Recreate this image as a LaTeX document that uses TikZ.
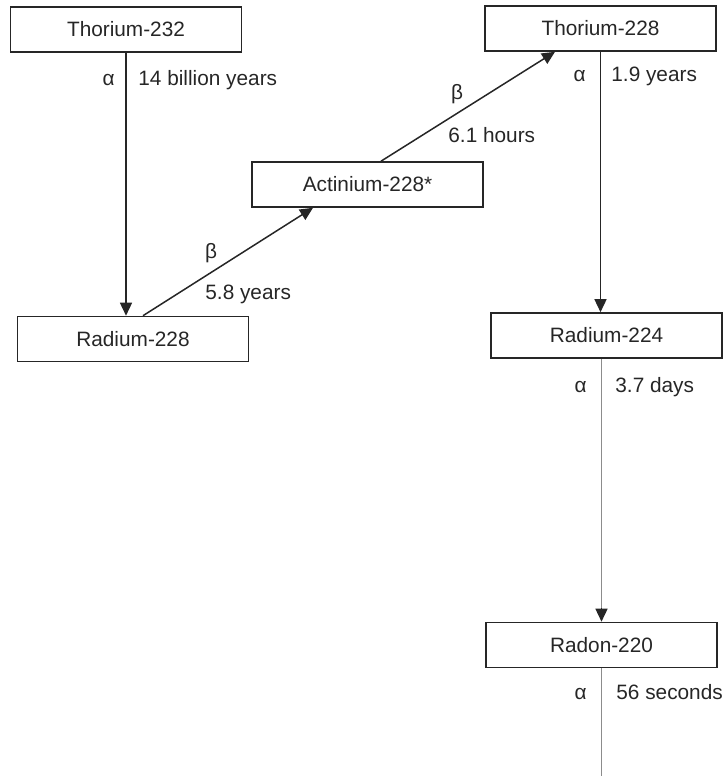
\documentclass[tikz,border=0pt]{standalone}
\usepackage{fontspec}
\setmainfont{Liberation Sans}
\usetikzlibrary{arrows.meta}
\begin{document}
\begin{tikzpicture}[x=0.5pt,y=-0.5pt,
  every node/.style={font=\fontsize{10.4pt}{12pt}\selectfont, text=black!85},
  isobox/.style={draw=black!85, line width=0.8pt, minimum width=115.5pt, minimum height=22.5pt, inner sep=0pt},
  arr/.style={-{Triangle[length=6.5pt,width=6pt]}, line width=0.75pt, draw=black!85},
  grayline/.style={line width=0.85pt, draw=black!45},
  lab/.style={inner sep=0pt, anchor=base west},
  sym/.style={inner sep=0pt, anchor=base east},
  symc/.style={inner sep=0pt}]
\useasboundingbox (0,0) rectangle (726,776);
\node[isobox] (th232) at (126,29.5) {Thorium-232};
\node[isobox] (ra228) at (133,339) {Radium-228};
\node[isobox] (ac228) at (367.5,184.5) {Actinium-228*};
\node[isobox] (th228) at (600.5,28.5) {Thorium-228};
\node[isobox] (ra224) at (606.5,335.5) {Radium-224};
\node[isobox] (rn220) at (601.5,645) {Radon-220};
\coordinate (tail) at (601.5,776);
% connectors
\draw[arr] (th232.south) -- (th232.south |- ra228.north);
\draw[arr] ([xshift=5pt]ra228.north) -- ([xshift=-27.25pt]ac228.south);
\draw[arr] ([xshift=6.75pt]ac228.north) -- ([xshift=-22.75pt]th228.south);
\draw[arr] (th228.south) -- (th228.south |- ra224.north);
\draw[grayline] (rn220.north |- ra224.south) -- ([yshift=6pt]rn220.north);
\draw[arr] ([yshift=6.7pt]rn220.north) -- (rn220.north);
\draw[grayline] (rn220.south) -- (tail);
% labels
\node[sym] (a1) at (115,85) {α};
\node[lab] (t1) at (138,85) {14 billion years};
\node[symc] (b1) at (211,253) {β};
\node[lab] (t2) at (205,299) {5.8 years};
\node[symc] (b2) at (457,94) {β};
\node[lab] (t3) at (448,142) {6.1 hours};
\node[sym] (a2) at (586,81) {α};
\node[lab] (t4) at (611,81) {1.9 years};
\node[sym] (a3) at (587,392) {α};
\node[lab] (t5) at (615,392) {3.7 days};
\node[sym] (a4) at (587,699) {α};
\node[lab] (t6) at (616,699) {56 seconds};
\end{tikzpicture}
\end{document}
